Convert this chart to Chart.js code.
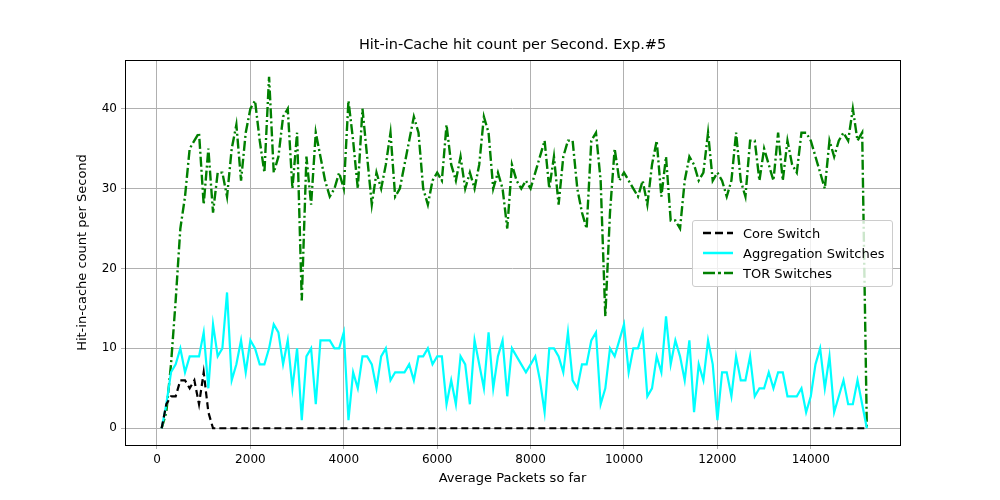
<!DOCTYPE html>
<html><head><meta charset="utf-8">
<script src="https://cdn.jsdelivr.net/npm/chart.js@4"></script>
<style>
body{margin:0;background:#fff;font-family:"DejaVu Sans",sans-serif;}
#wrap{position:relative;width:1000px;height:500px;}
#title{position:absolute;top:36px;left:125px;width:775px;text-align:center;font-size:14.5px;color:#000;}
#legend{position:absolute;left:692px;top:220px;width:199px;height:65px;border:1px solid #ccc;border-radius:3px;background:rgba(255,255,255,0.8);font-size:13px;}
.li{position:absolute;left:10px;height:20px;display:flex;align-items:center;}
.li span{margin-left:10px;}
</style></head><body>
<div id="wrap"><canvas id="c" width="1000" height="500"></canvas>
<div id="title">Hit-in-Cache hit count per Second. Exp.#5</div>
<div id="legend">
<div class="li" style="top:2px"><svg width="30" height="6"><line x1="0" y1="3" x2="30" y2="3" stroke="#000" stroke-width="2.5" stroke-dasharray="8,4"/></svg><span>Core Switch</span></div>
<div class="li" style="top:22px"><svg width="30" height="6"><line x1="0" y1="3" x2="30" y2="3" stroke="#00ffff" stroke-width="2.5"/></svg><span>Aggregation Switches</span></div>
<div class="li" style="top:42px"><svg width="30" height="6"><line x1="0" y1="3" x2="30" y2="3" stroke="#008000" stroke-width="2.5" stroke-dasharray="12,3,3,3"/></svg><span>TOR Switches</span></div>
</div></div>
<script>
const xStart=100, xStep=100;
const aggValues=[0,3,7,8,10,7,9,9,9,12, 5,13,9,10,17,6,8,11,7,11, 10,8,8,10,13,12,8,11,5,10, 1,9,10,3,11,11,11,10,10,12, 1,7,5,9,9,8,5,9,10,6, 7,7,7,8,6,9,9,10,8,9, 9,3,6,3,9,8,3,11,8,5, 12,5,9,11,4,10,9,8,7,8, 9,6,2,10,10,9,7,12,6,5, 8,8,11,12,3,5,10,9,11,13, 7,10,10,12,4,5,9,7,14,8, 11,9,6,11,2,8,6,11,8,1, 7,7,4,9,6,6,9,4,5,5, 7,5,7,7,4,4,4,5,2,4, 8,10,5,9,2,4,6,3,3,6, 3,0];
const torValues=[0,2,8,16,25,29,35,36,37,28, 35,27,32,32,29,35,38,31,37,40, 41,36,32,44,32,34,39,40,30,37, 16,34,28,37,34,31,29,30,32,30, 41,36,30,40,34,28,32,30,33,37, 29,30,33,36,39,37,30,28,31,32, 31,38,33,31,34,30,32,30,33,39, 37,30,32,30,25,33,31,30,31,30, 32,34,36,30,34,28,34,36,36,30, 27,25,36,37,31,14,27,35,31,32, 31,30,29,31,28,33,36,29,34,26, 26,25,31,34,33,31,32,37,31,32, 31,29,31,37,31,29,36,36,31,35, 33,31,37,31,36,33,32,37,37,36, 34,32,30,36,34,36,37,36,40,36, 37,0];
const coreHead=[0,3,4,4,6,6,5,6,3,7,2];
const xTicks=[0,2000,4000,6000,8000,10000,12000,14000];
const yTicks=[0,10,20,30,40];
const n=aggValues.length;
const xs=[];for(let i=0;i<n;i++)xs.push(xStart+i*xStep);
const coreValues=xs.map((x,i)=>i<coreHead.length?coreHead[i]:0);
const pts=a=>a.map((v,i)=>({x:xs[i],y:v}));
const frame={id:'frame',afterDraw(c){const a=c.chartArea,g=c.ctx;g.save();g.strokeStyle='#000';g.lineWidth=1;g.strokeRect(a.left+0.5,a.top+0.5,a.right-a.left,a.bottom-a.top);g.restore();}};
Chart.defaults.font.family='"DejaVu Sans"';Chart.defaults.color='#000';
new Chart(document.getElementById('c'),{type:'line',
data:{datasets:[
{label:'Core Switch',data:pts(coreValues),borderColor:'#000',borderWidth:2.2,borderDash:[7,4],pointRadius:0,tension:0},
{label:'Aggregation Switches',data:pts(aggValues),borderColor:'#00ffff',borderWidth:2.2,pointRadius:0,tension:0},
{label:'TOR Switches',data:pts(torValues),borderColor:'#008000',borderWidth:2.4,borderDash:[10,3,2,3],pointRadius:0,tension:0}]},
options:{responsive:false,animation:false,layout:{padding:{top:60,right:100,left:75,bottom:14}},
plugins:{legend:{display:false},title:{display:false},tooltip:{enabled:false}},
scales:{
x:{type:'linear',min:-685,max:15910,afterBuildTicks:s=>{s.ticks=xTicks.map(v=>({value:v}));},afterFit:s=>{s.height=41;},
ticks:{font:{size:12},maxRotation:0,padding:4,callback:v=>String(v)},grid:{color:'#b0b0b0',tickLength:4},border:{display:false},
title:{display:true,text:'Average Packets so far',font:{size:13},padding:{top:0,bottom:0}}},
y:{min:-2.1,max:46.1,afterBuildTicks:s=>{s.ticks=yTicks.map(v=>({value:v}));},afterFit:s=>{s.width=50;},
ticks:{font:{size:12},padding:4,callback:v=>String(v)},grid:{color:'#b0b0b0',tickLength:4},border:{display:false},
title:{display:true,text:'Hit-in-cache count per Second',font:{size:13},padding:{top:0,bottom:0}}}}},
plugins:[frame]});
</script></body></html>
